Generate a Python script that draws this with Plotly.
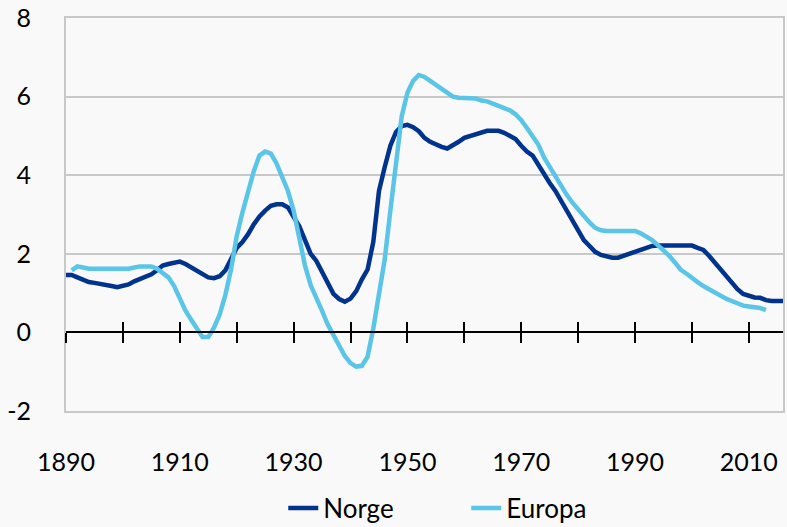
import plotly.graph_objects as go

# ---- data -------------------------------------------------------------
norge_years = list(range(1890, 2017))
norge_values = [
    1.46, 1.46, 1.40, 1.33, 1.28, 1.26, 1.24, 1.22, 1.18, 1.15,   # 1890-1899
    1.18, 1.22, 1.30, 1.36, 1.42, 1.48, 1.58, 1.70, 1.74, 1.78,   # 1900-1909
    1.80, 1.74, 1.66, 1.58, 1.50, 1.40, 1.38, 1.43, 1.58, 1.85,   # 1910-1919
    2.15, 2.30, 2.50, 2.75, 2.95, 3.10, 3.22, 3.26, 3.26, 3.18,   # 1920-1929
    2.95, 2.70, 2.35, 2.00, 1.82, 1.55, 1.25, 0.98, 0.85, 0.78,   # 1930-1939
    0.86, 1.05, 1.35, 1.60, 2.30, 3.60, 4.20, 4.75, 5.10, 5.25,   # 1940-1949
    5.28, 5.22, 5.12, 4.95, 4.85, 4.78, 4.72, 4.68, 4.75, 4.85,   # 1950-1959
    4.95, 5.00, 5.04, 5.10, 5.13, 5.13, 5.13, 5.08, 5.00, 4.92,   # 1960-1969
    4.75, 4.60, 4.50, 4.25, 4.00, 3.80, 3.60, 3.35, 3.05, 2.80,   # 1970-1979
    2.55, 2.35, 2.20, 2.05, 1.97, 1.92, 1.90, 1.90, 1.95, 2.00,   # 1980-1989
    2.05, 2.10, 2.15, 2.20, 2.21, 2.21, 2.21, 2.21, 2.21, 2.21,   # 1990-1999
    2.21, 2.15, 2.10, 1.95, 1.78, 1.58, 1.45, 1.28, 1.10, 0.98,   # 2000-2009
    0.92, 0.89, 0.88, 0.82, 0.80, 0.80, 0.80,                     # 2010-2016
]

europa_years = list(range(1891, 2014))
europa_values = [
    1.58, 1.68, 1.65, 1.62, 1.62, 1.62, 1.62, 1.62, 1.62,         # 1891-1899
    1.62, 1.62, 1.65, 1.68, 1.68, 1.68, 1.62, 1.52, 1.40, 1.18,   # 1900-1909
    0.85, 0.55, 0.32, 0.08, -0.12, -0.12, 0.12, 0.45, 0.95, 1.60, # 1910-1919
    2.45, 3.05, 3.60, 4.10, 4.50, 4.60, 4.55, 4.30, 3.95, 3.60,   # 1920-1929
    3.10, 2.35, 1.70, 1.20, 0.90, 0.55, 0.20, -0.05, -0.30, -0.60,  # 1930-1939
    -0.78, -0.87, -0.85, -0.62, 0.10, 0.95, 1.85, 3.10, 4.40, 5.50, # 1940-1949
    6.10, 6.40, 6.55, 6.50, 6.40, 6.30, 6.20, 6.08, 6.00, 5.97,   # 1950-1959
    5.96, 5.96, 5.95, 5.90, 5.88, 5.82, 5.77, 5.72, 5.65, 5.55,   # 1960-1969
    5.40, 5.20, 5.00, 4.78, 4.45, 4.20, 4.00, 3.75, 3.50, 3.30,   # 1970-1979
    3.12, 2.95, 2.80, 2.66, 2.60, 2.58, 2.58, 2.58, 2.58, 2.58,   # 1980-1989
    2.58, 2.52, 2.45, 2.35, 2.22, 2.10, 1.95, 1.78, 1.60, 1.50,   # 1990-1999
    1.38, 1.28, 1.18, 1.10, 1.00, 0.92, 0.86, 0.80, 0.73, 0.68,   # 2000-2009
    0.66, 0.65, 0.62, 0.57,                                       # 2010-2013
]

x_label_vals = [1890, 1910, 1930, 1950, 1970, 1990, 2010]
x_label_text = [str(v) for v in x_label_vals]
x_tick_vals = list(range(1890, 2011, 10))
y_tick_vals = [-2, 0, 2, 4, 6, 8]
y_tick_text = ["-2", "0", "2", "4", "6", "8"]

series_names = ["Norge", "Europa"]
series_colors = ["#00338D", "#5BC5E8"]

# ---- figure -------------------------------------------------------------
BG = "#F9F9F9"
GRID = "#C8C8C8"
FONT = "Lato"
FS = 25

x_range = [1890, 2016]
y_range = [-2, 8]
zero_pos = (0 - y_range[0]) / (y_range[1] - y_range[0])

fig = go.Figure()
# invisible carriers so the zero-line axes get drawn
for ax in ("x2", "x3"):
    fig.add_trace(go.Scatter(x=x_range, y=[0, 0], xaxis=ax, yaxis="y",
                             mode="lines", line=dict(width=0, color=BG),
                             showlegend=False, hoverinfo="skip"))
fig.add_trace(go.Scatter(x=norge_years, y=norge_values, mode="lines",
                         name=series_names[0],
                         line=dict(color=series_colors[0], width=4.5)))
fig.add_trace(go.Scatter(x=europa_years, y=europa_values, mode="lines",
                         name=series_names[1],
                         line=dict(color=series_colors[1], width=4.5)))

fig.update_layout(
    width=787, height=527,
    margin=dict(l=66, r=4, t=18, b=116, autoexpand=False),
    paper_bgcolor=BG, plot_bgcolor=BG,
    font=dict(family=FONT, size=FS, color="#000000"),
    showlegend=True,
    legend=dict(orientation="h", x=0.303, xanchor="left",
                y=-0.247, yanchor="middle",
                font=dict(family=FONT, size=26, color="#000000"),
                bgcolor="rgba(0,0,0,0)", entrywidth=138,
                entrywidthmode="pixels"),
    xaxis=dict(range=x_range, tickmode="array", tickvals=x_label_vals,
               ticktext=x_label_text, showgrid=False, zeroline=False,
               ticks="", showline=True, linecolor=GRID, linewidth=2,
               mirror=True, ticklabelstandoff=28, automargin=False,
               tickfont=dict(family=FONT, size=FS)),
    # zero line with ticks crossing it
    xaxis2=dict(range=x_range, overlaying="x", anchor="free",
                position=zero_pos, tickmode="array", tickvals=x_tick_vals,
                showticklabels=False, showgrid=False, zeroline=False,
                showline=True, linecolor="#000000", linewidth=2,
                ticks="outside", ticklen=10, tickwidth=2,
                tickcolor="#000000", automargin=False),
    xaxis3=dict(range=x_range, overlaying="x", anchor="free",
                position=zero_pos, tickmode="array", tickvals=x_tick_vals,
                showticklabels=False, showgrid=False, zeroline=False,
                showline=False, ticks="inside", ticklen=10, tickwidth=2,
                tickcolor="#000000", automargin=False),
    yaxis=dict(range=y_range, tickmode="array", tickvals=y_tick_vals,
               ticktext=y_tick_text, showgrid=True, gridcolor=GRID,
               gridwidth=2, zeroline=False, showline=True, linecolor=GRID,
               linewidth=2, mirror=True, ticks="", ticklabelstandoff=28,
               automargin=False, tickfont=dict(family=FONT, size=FS)),
)

fig.write_html(
    "out.html",
    config={"displayModeBar": False},
    post_script="document.body.style.margin='0';"
                "document.body.style.background='#F9F9F9';",
)
